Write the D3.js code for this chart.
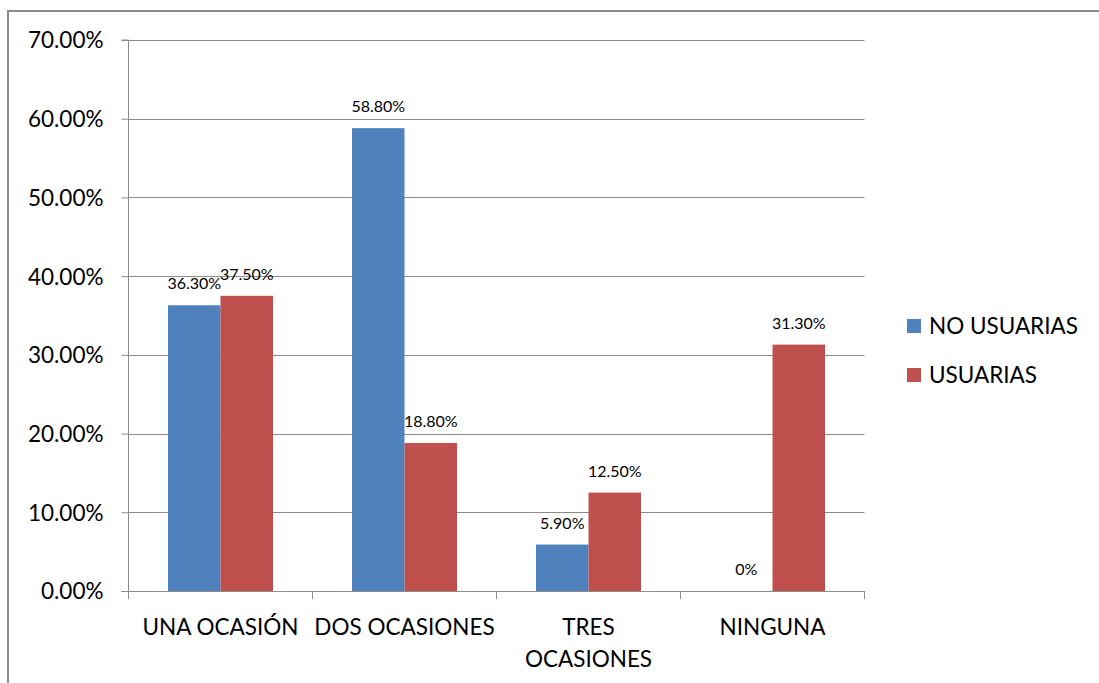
<!DOCTYPE html>
<html>
<head>
<meta charset="utf-8">
<script src="https://cdn.jsdelivr.net/npm/d3@7"></script>
<style>
  html, body { margin: 0; padding: 0; background: #fff; }
  svg { display: block; }
  text { font-family: Lato, "Open Sans", sans-serif; fill: #000; }
</style>
</head>
<body>
<svg id="chart" width="1099" height="683"></svg>
<script>
// Chart data
const categories = ["UNA OCASIÓN", "DOS OCASIONES", "TRES OCASIONES", "NINGUNA"];
const categoryLines = [["UNA OCASIÓN"], ["DOS OCASIONES"], ["TRES", "OCASIONES"], ["NINGUNA"]];
const seriesNames = ["NO USUARIAS", "USUARIAS"];
const noUsuarias = [36.3, 58.8, 5.9, 0];
const usuarias = [37.5, 18.8, 12.5, 31.3];
const valueLabels = [["36.30%", "58.80%", "5.90%", "0%"], ["37.50%", "18.80%", "12.50%", "31.30%"]];
const yTicks = [0, 10, 20, 30, 40, 50, 60, 70];
const colors = ["#4F81BD", "#C0504D"];

const series = [noUsuarias, usuarias];

const svg = d3.select("#chart");

// Outer chart frame
svg.append("rect")
  .attr("x", 8).attr("y", 11)
  .attr("width", 1200).attr("height", 800)
  .attr("fill", "none")
  .attr("stroke", "#8c8c8c")
  .attr("stroke-width", 2);

const plot = { left: 128.5, right: 864.5, top: 40, bottom: 591 };

const x = d3.scaleBand()
  .domain(categories)
  .range([plot.left, plot.right])
  .paddingInner(0).paddingOuter(0);

const x1 = d3.scaleBand()
  .domain([0, 1])
  .range([0, x.bandwidth()])
  .paddingInner(0)
  .paddingOuter(0.752);

const y = d3.scaleLinear().domain([0, 70]).range([plot.bottom, plot.top]);

// Horizontal gridlines
svg.append("g")
  .selectAll("line")
  .data(yTicks.filter(d => d > 0))
  .join("line")
  .attr("x1", plot.left).attr("x2", plot.right)
  .attr("y1", d => Math.round(y(d)) + 0.5).attr("y2", d => Math.round(y(d)) + 0.5)
  .attr("stroke", "#8c8c8c").attr("stroke-width", 1);

// Y axis
const yAxis = d3.axisLeft(y)
  .tickValues(yTicks)
  .tickSize(7)
  .tickPadding(18)
  .tickFormat(d => d.toFixed(2) + "%");

const yg = svg.append("g")
  .attr("transform", `translate(${plot.left},0)`)
  .call(yAxis);
yg.select(".domain").attr("stroke", "#8c8c8c").attr("d", `M-7,${plot.top}H0V${plot.bottom}`);
yg.selectAll(".tick line").attr("stroke", "#8c8c8c");
yg.selectAll(".tick text")
  .style("font-size", "22.5px")
  .attr("dy", "0.35em")
  .attr("fill", "#000");

// Bars
const groups = svg.append("g")
  .selectAll("g")
  .data(categories)
  .join("g")
  .attr("transform", d => `translate(${x(d)},0)`);

groups.selectAll("rect")
  .data((d, i) => series.map((s, k) => ({ k, v: s[i] })))
  .join("rect")
  .attr("x", d => x1(d.k))
  .attr("width", x1.bandwidth())
  .attr("y", d => y(d.v))
  .attr("height", d => y(0) - y(d.v))
  .attr("fill", d => colors[d.k]);

// Value labels
groups.selectAll("text.val")
  .data((d, i) => series.map((s, k) => ({ k, v: s[i], label: valueLabels[k][i] })))
  .join("text")
  .attr("class", "val")
  .attr("x", d => x1(d.k) + x1.bandwidth() / 2)
  .attr("y", d => y(d.v) - 16)
  .attr("text-anchor", "middle")
  .style("font-size", "16px")
  .text(d => d.label);

// X axis
const xg = svg.append("g");
xg.append("line")
  .attr("x1", plot.left - 7).attr("x2", plot.right)
  .attr("y1", plot.bottom + 0.5).attr("y2", plot.bottom + 0.5)
  .attr("stroke", "#8c8c8c");
const bounds = categories.map(c => x(c)).concat([plot.right]);
xg.selectAll("line.tk")
  .data(bounds)
  .join("line")
  .attr("class", "tk")
  .attr("x1", d => d).attr("x2", d => d)
  .attr("y1", plot.bottom).attr("y2", plot.bottom + 8)
  .attr("stroke", "#8c8c8c");

xg.selectAll("text")
  .data(categories)
  .join("text")
  .attr("x", d => x(d) + x.bandwidth() / 2)
  .attr("y", 635)
  .attr("text-anchor", "middle")
  .style("font-size", "22.5px")
  .each(function(d, i) {
    const t = d3.select(this);
    categoryLines[i].forEach((ln, j) => {
      t.append("tspan")
        .attr("x", x(d) + x.bandwidth() / 2)
        .attr("dy", j === 0 ? 0 : 32)
        .text(ln);
    });
  });

// Legend
const legend = svg.append("g").attr("transform", "translate(907,319)");
seriesNames.forEach((name, k) => {
  const row = legend.append("g").attr("transform", `translate(0,${k * 49})`);
  row.append("rect").attr("width", 14).attr("height", 14).attr("fill", colors[k]);
  row.append("text").attr("x", 22).attr("y", 7).attr("dy", "0.35em")
    .style("font-size", "22.5px").text(name);
});
</script>
</body>
</html>
